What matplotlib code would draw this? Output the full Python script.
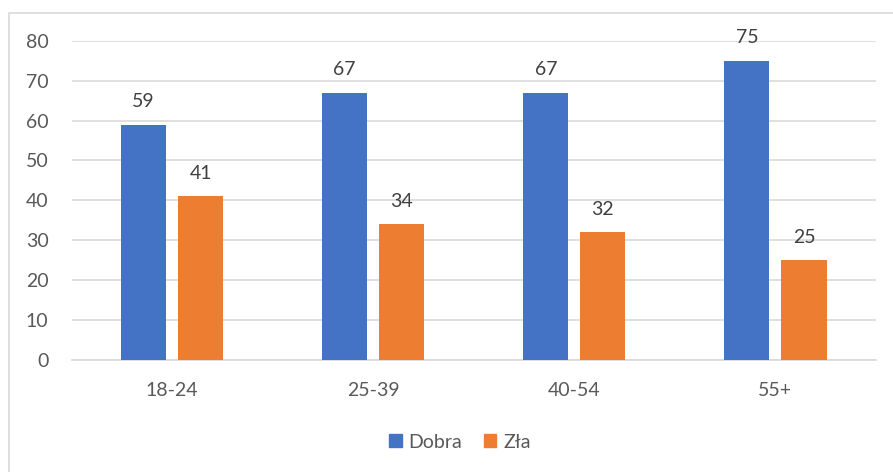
import numpy as np
import matplotlib.pyplot as plt
from matplotlib.patches import Rectangle, Patch

# age groups and answers
categories = ['18-24', '25-39', '40-54', '55+']
dobra = [59, 67, 67, 75]
zla = [41, 34, 32, 25]

plt.rcParams['font.family'] = ['Lato', 'DejaVu Sans']

fig = plt.figure(figsize=(8.93, 4.72), dpi=100)
ax = fig.add_axes([71.5 / 893, 112 / 472, 804.5 / 893, 319.3 / 472])

# light frame like an Excel chart area (cut off at right and bottom)
fig.patches.append(Rectangle((8.5 / 893, -0.1), 1.2, (472 - 12.5) / 472 + 0.1,
                             transform=fig.transFigure, fill=False,
                             edgecolor='#D9D9D9', linewidth=1.2))

x = np.arange(len(categories))
w = 0.224
off = 0.142
b1 = ax.bar(x - off, dobra, w, color='#4472C4', label='Dobra', zorder=3)
b2 = ax.bar(x + off, zla, w, color='#ED7D31', label='Zła', zorder=3)

for bars, vals in [(b1, dobra), (b2, zla)]:
    for r, v in zip(bars, vals):
        ax.annotate(str(v), (r.get_x() + r.get_width() / 2, v),
                    xytext=(0, 10.5), textcoords='offset points',
                    ha='center', va='bottom', fontsize=14, color='#404040')

ax.set_xlim(-0.5, 3.5)
ax.set_ylim(0, 80)
ax.set_yticks(range(0, 81, 10))
ax.set_xticks(x)
ax.set_xticklabels(categories)
ax.tick_params(axis='both', length=0, labelsize=14, labelcolor='#595959')
ax.tick_params(axis='x', pad=16)
ax.tick_params(axis='y', pad=16.5)
ax.grid(axis='y', color='#D9D9D9', linewidth=1.2, zorder=0)
for s in ['top', 'right', 'left']:
    ax.spines[s].set_visible(False)
ax.spines['bottom'].set_color('#D9D9D9')
ax.spines['bottom'].set_linewidth(1.2)

handles = [Patch(color='#4472C4', label='Dobra'), Patch(color='#ED7D31', label='Zła')]
leg = fig.legend(handles=handles, loc='center', bbox_to_anchor=(460 / 893, 1 - 442 / 472),
                 ncol=2, frameon=False, fontsize=14, handlelength=0.65, handleheight=0.65,
                 handletextpad=0.35, columnspacing=1.1)
for t in leg.get_texts():
    t.set_color('#595959')

fig.savefig('out.png', dpi=100)
